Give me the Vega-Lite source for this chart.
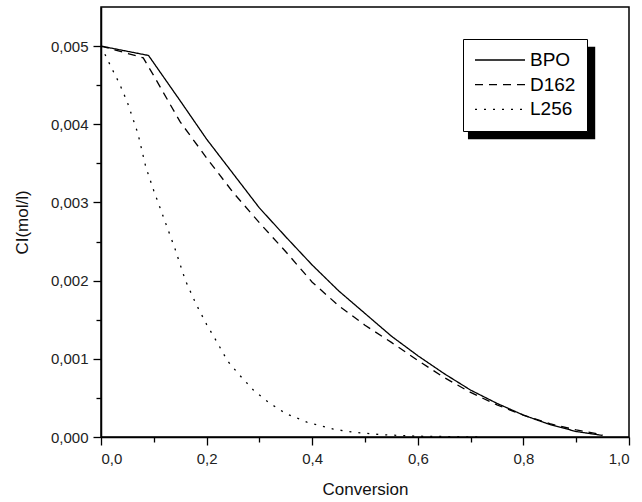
{
  "$schema": "https://vega.github.io/schema/vega-lite/v6.json",
  "width": 528,
  "height": 430,
  "autosize": {"type": "none"},
  "padding": {"left": 101, "top": 7, "right": 13, "bottom": 65},
  "background": "white",
  "config": {
    "font": "Liberation Sans",
    "view": {"stroke": "black", "strokeWidth": 1.5},
    "axis": {
      "grid": false,
      "domainColor": "black",
      "domainWidth": 1.5,
      "tickColor": "black",
      "tickWidth": 1.3,
      "labelColor": "#222",
      "titleColor": "#111",
      "labelFontSize": 15,
      "titleFontSize": 17,
      "titleFontWeight": "normal",
      "labelOverlap": false
    }
  },
  "datasets": {
    "curves": [
      {"conversion": 0.00, "ci": 0.00500, "initiator": "BPO"},
      {"conversion": 0.09, "ci": 0.00488, "initiator": "BPO"},
      {"conversion": 0.15, "ci": 0.00430, "initiator": "BPO"},
      {"conversion": 0.20, "ci": 0.00381, "initiator": "BPO"},
      {"conversion": 0.25, "ci": 0.00337, "initiator": "BPO"},
      {"conversion": 0.30, "ci": 0.00293, "initiator": "BPO"},
      {"conversion": 0.35, "ci": 0.00256, "initiator": "BPO"},
      {"conversion": 0.40, "ci": 0.00220, "initiator": "BPO"},
      {"conversion": 0.45, "ci": 0.00187, "initiator": "BPO"},
      {"conversion": 0.50, "ci": 0.00158, "initiator": "BPO"},
      {"conversion": 0.55, "ci": 0.00129, "initiator": "BPO"},
      {"conversion": 0.60, "ci": 0.00104, "initiator": "BPO"},
      {"conversion": 0.65, "ci": 0.00081, "initiator": "BPO"},
      {"conversion": 0.70, "ci": 0.00060, "initiator": "BPO"},
      {"conversion": 0.75, "ci": 0.00043, "initiator": "BPO"},
      {"conversion": 0.80, "ci": 0.00028, "initiator": "BPO"},
      {"conversion": 0.85, "ci": 0.00016, "initiator": "BPO"},
      {"conversion": 0.90, "ci": 0.00007, "initiator": "BPO"},
      {"conversion": 0.95, "ci": 0.00002, "initiator": "BPO"},
      {"conversion": 0.00, "ci": 0.00500, "initiator": "D162"},
      {"conversion": 0.08, "ci": 0.00485, "initiator": "D162"},
      {"conversion": 0.10, "ci": 0.00462, "initiator": "D162"},
      {"conversion": 0.15, "ci": 0.00403, "initiator": "D162"},
      {"conversion": 0.20, "ci": 0.00357, "initiator": "D162"},
      {"conversion": 0.25, "ci": 0.00313, "initiator": "D162"},
      {"conversion": 0.30, "ci": 0.00274, "initiator": "D162"},
      {"conversion": 0.35, "ci": 0.00237, "initiator": "D162"},
      {"conversion": 0.40, "ci": 0.00198, "initiator": "D162"},
      {"conversion": 0.45, "ci": 0.00168, "initiator": "D162"},
      {"conversion": 0.50, "ci": 0.00143, "initiator": "D162"},
      {"conversion": 0.55, "ci": 0.00121, "initiator": "D162"},
      {"conversion": 0.60, "ci": 0.00098, "initiator": "D162"},
      {"conversion": 0.65, "ci": 0.00076, "initiator": "D162"},
      {"conversion": 0.70, "ci": 0.00057, "initiator": "D162"},
      {"conversion": 0.75, "ci": 0.00041, "initiator": "D162"},
      {"conversion": 0.80, "ci": 0.00028, "initiator": "D162"},
      {"conversion": 0.85, "ci": 0.00017, "initiator": "D162"},
      {"conversion": 0.90, "ci": 0.00009, "initiator": "D162"},
      {"conversion": 0.95, "ci": 0.00003, "initiator": "D162"},
      {"conversion": 0.000, "ci": 0.00500, "initiator": "L256"},
      {"conversion": 0.010, "ci": 0.00486, "initiator": "L256"},
      {"conversion": 0.020, "ci": 0.00472, "initiator": "L256"},
      {"conversion": 0.035, "ci": 0.00452, "initiator": "L256"},
      {"conversion": 0.050, "ci": 0.00428, "initiator": "L256"},
      {"conversion": 0.070, "ci": 0.00388, "initiator": "L256"},
      {"conversion": 0.085, "ci": 0.00345, "initiator": "L256"},
      {"conversion": 0.100, "ci": 0.00315, "initiator": "L256"},
      {"conversion": 0.120, "ci": 0.00278, "initiator": "L256"},
      {"conversion": 0.140, "ci": 0.00241, "initiator": "L256"},
      {"conversion": 0.160, "ci": 0.00200, "initiator": "L256"},
      {"conversion": 0.180, "ci": 0.00170, "initiator": "L256"},
      {"conversion": 0.200, "ci": 0.00144, "initiator": "L256"},
      {"conversion": 0.220, "ci": 0.00121, "initiator": "L256"},
      {"conversion": 0.240, "ci": 0.00097, "initiator": "L256"},
      {"conversion": 0.260, "ci": 0.00081, "initiator": "L256"},
      {"conversion": 0.290, "ci": 0.00059, "initiator": "L256"},
      {"conversion": 0.320, "ci": 0.00043, "initiator": "L256"},
      {"conversion": 0.350, "ci": 0.00030, "initiator": "L256"},
      {"conversion": 0.390, "ci": 0.00019, "initiator": "L256"},
      {"conversion": 0.440, "ci": 0.00010, "initiator": "L256"},
      {"conversion": 0.480, "ci": 0.00006, "initiator": "L256"},
      {"conversion": 0.530, "ci": 0.00003, "initiator": "L256"},
      {"conversion": 0.600, "ci": 0.00001, "initiator": "L256"},
      {"conversion": 0.720, "ci": 0.00000, "initiator": "L256"}
    ]
  },
  "layer": [
    {
      "data": {"values": [{"part": "legend shadow"}]},
      "mark": {"type": "rect", "fill": "black"},
      "encoding": {
        "x": {"datum": 0.695, "type": "quantitative", "scale": {"domain": [0, 1], "nice": false}},
        "x2": {"datum": 0.936},
        "y": {"datum": 0.00499, "type": "quantitative", "scale": {"domain": [0, 0.0055], "nice": false, "zero": false}},
        "y2": {"datum": 0.00381}
      }
    },
    {
      "data": {"name": "curves"},
      "mark": {"type": "line", "stroke": "black", "strokeWidth": 1.3, "clip": true},
      "encoding": {
        "x": {
          "field": "conversion",
          "type": "quantitative",
          "scale": {"domain": [0, 1], "nice": false},
          "axis": {
            "title": "Conversion",
            "titlePadding": 15,
            "values": [0, 0.1, 0.2, 0.3, 0.4, 0.5, 0.6, 0.7, 0.8, 0.9, 1.0],
            "labelPadding": 6,
            "labelExpr": "abs(datum.value*5 - round(datum.value*5)) < 0.001 ? replace(format(datum.value, '.1f'), '.', ',') : ''",
            "tickSize": {"condition": {"test": "abs(datum.value*5 - round(datum.value*5)) < 0.001", "value": 8}, "value": 5}
          }
        },
        "y": {
          "field": "ci",
          "type": "quantitative",
          "scale": {"domain": [0, 0.0055], "nice": false, "zero": false},
          "axis": {
            "title": "CI(mol/l)",
            "titlePadding": 19,
            "values": [0, 0.0005, 0.001, 0.0015, 0.002, 0.0025, 0.003, 0.0035, 0.004, 0.0045, 0.005],
            "labelPadding": 5,
            "labelExpr": "abs(datum.value*1000 - round(datum.value*1000)) < 0.001 ? replace(format(datum.value, '.3f'), '.', ',') : ''",
            "tickSize": {"condition": {"test": "abs(datum.value*1000 - round(datum.value*1000)) < 0.001", "value": 8}, "value": 5}
          }
        },
        "strokeDash": {
          "field": "initiator",
          "type": "nominal",
          "scale": {"domain": ["BPO", "D162", "L256"], "range": [[1, 0], [8, 6], [2, 7]]},
          "legend": {
            "title": null,
            "orient": "none",
            "legendX": 362,
            "legendY": 32,
            "strokeColor": "black",
            "fillColor": "white",
            "padding": 11,
            "symbolType": "stroke",
            "symbolSize": 2500,
            "symbolStrokeWidth": 1.3,
            "symbolStrokeColor": "black",
            "clipHeight": 20,
            "rowPadding": 4.7,
            "labelOffset": 4,
            "labelFontSize": 19,
            "labelColor": "black"
          }
        }
      }
    }
  ]
}
